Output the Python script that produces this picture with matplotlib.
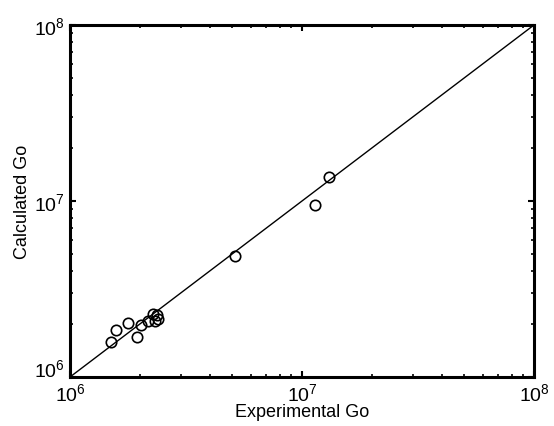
import matplotlib
matplotlib.use("Agg")
import matplotlib.pyplot as plt
import matplotlib.transforms as mtransforms
import numpy as np

plt.rcParams['font.family'] = ['Liberation Sans', 'DejaVu Sans']

# experimental vs calculated Go
exp_go = [1.50e6, 1.58e6, 1.78e6, 2.02e6, 1.94e6, 2.17e6, 2.28e6, 2.37e6,
          2.32e6, 2.39e6, 5.14e6, 1.14e7, 1.31e7]
calc_go = [1.58e6, 1.85e6, 2.03e6, 1.97e6, 1.69e6, 2.08e6, 2.28e6, 2.25e6,
           2.08e6, 2.14e6, 4.87e6, 9.49e6, 1.37e7]
line_ends = [1e6, 1e8]

fig = plt.figure(figsize=(5.54, 4.27), dpi=100)
ax = fig.add_axes([70 / 554, 1 - 378 / 427, 464 / 554, 352 / 427])

ax.plot(line_ends, line_ends, color='black', lw=1.0)
ax.plot(exp_go, calc_go, 'o', mfc='none', mec='black', ms=7.5, mew=1.2,
        clip_on=False)

ax.set_xscale('log')
ax.set_yscale('log')
ax.set_xlim(1e6, 1e8)
ax.set_ylim(1e6, 1e8)

for s in ax.spines.values():
    s.set_linewidth(2.2)
ax.tick_params(which='both', direction='in', top=True, right=True,
               labelsize=14, pad=4)
ax.tick_params(which='major', length=4, width=1.5)
ax.tick_params(which='minor', length=2.5, width=1.2)

ax.set_xlabel('Experimental Go', fontsize=13, labelpad=-1)
ax.set_ylabel('Calculated Go', fontsize=13, labelpad=2)

# lift the bottom y label a little so it clears the x label
fig.canvas.draw()
for t in ax.yaxis.get_major_ticks():
    if np.isclose(t.get_loc(), 1e6):
        lab = t.label1
        lab.set_transform(lab.get_transform() +
                          mtransforms.ScaledTranslation(0, 7 / 72, fig.dpi_scale_trans))

fig.savefig('out.png', dpi=100)
